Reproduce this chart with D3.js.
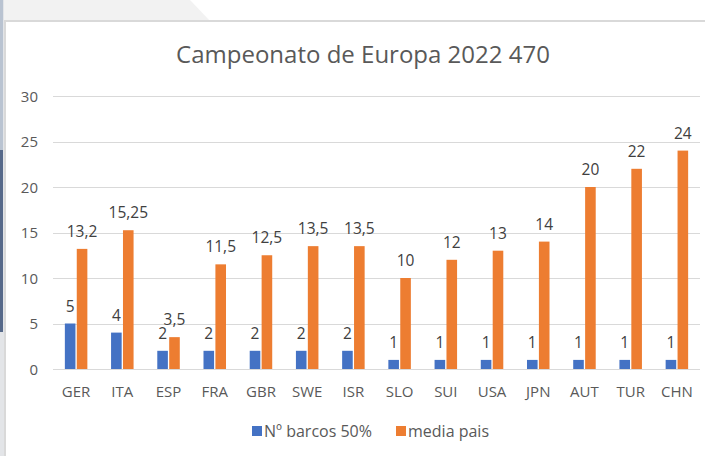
<!DOCTYPE html>
<html>
<head>
<meta charset="utf-8">
<script src="https://cdn.jsdelivr.net/npm/d3@7"></script>
<style>
  html, body { margin: 0; padding: 0; background: #ffffff; }
  svg { display: block; }
</style>
</head>
<body>
<svg id="chart" width="705" height="456"></svg>
<script>
// ---- data ----
const categories = ["GER","ITA","ESP","FRA","GBR","SWE","ISR","SLO","SUI","USA","JPN","AUT","TUR","CHN"];
const barcos = [5,4,2,2,2,2,2,1,1,1,1,1,1,1];
const mediaPais = [13.2,15.25,3.5,11.5,12.5,13.5,13.5,10,12,13,14,20,22,24];
const mediaLabels = ["13,2","15,25","3,5","11,5","12,5","13,5","13,5","10","12","13","14","20","22","24"];
const seriesNames = ["Nº barcos 50%","media pais"];
const yTicks = [0,5,10,15,20,25,30];
const title = "Campeonato de Europa 2022 470";

const colors = ["#4472C4","#ED7D31"];
const font = "'Open Sans', 'Liberation Sans', sans-serif";
const textColor = "#595959";

const svg = d3.select("#chart");
const W = 705, H = 456;

// page background / frame
svg.append("rect").attr("x",0).attr("y",0).attr("width",W).attr("height",H).attr("fill","#ffffff");
svg.append("path").attr("d","M0,0 L190,0 L210,21 L0,21 Z").attr("fill","#f2f2f2");
svg.append("rect").attr("x",0).attr("y",0).attr("width",4).attr("height",H).attr("fill","#e3e5e8");
svg.append("rect").attr("x",0).attr("y",0).attr("width",3).attr("height",150).attr("fill","#b9c3d1");
svg.append("rect").attr("x",0).attr("y",150).attr("width",3).attr("height",182).attr("fill","#56698a");
svg.append("rect").attr("x",5).attr("y",21).attr("width",W+10).attr("height",H+10)
  .attr("fill","#ffffff").attr("stroke","#d9d9d9").attr("stroke-width",2);

// scales
const x0 = d3.scaleBand().domain(categories).range([53,700]).paddingInner(0.513).paddingOuter(0.2565);
const x1 = d3.scaleBand().domain([0,1]).range([0,x0.bandwidth()]).paddingInner(0.11);
const y = d3.scaleLinear().domain([0,30]).range([369,96]);

// gridlines
svg.append("g").selectAll("line").data(yTicks).join("line")
  .attr("x1",53).attr("x2",700)
  .attr("y1",d=>Math.round(y(d))+0.5).attr("y2",d=>Math.round(y(d))+0.5)
  .attr("stroke","#d9d9d9").attr("stroke-width",1);

// y axis labels
const yAxis = d3.axisLeft(y).tickValues(yTicks).tickSize(0).tickPadding(0);
const gy = svg.append("g").attr("transform","translate(38,0)").call(yAxis);
gy.select(".domain").remove();
gy.selectAll("text").attr("font-family",font).attr("font-size",15).attr("fill",textColor).attr("dy","0.35em");

// x axis labels
const xAxis = d3.axisBottom(x0).tickSize(0).tickPadding(0);
const gx = svg.append("g").attr("transform","translate(0,397)").call(xAxis);
gx.select(".domain").remove();
gx.selectAll("text").attr("font-family",font).attr("font-size",15).attr("fill",textColor).attr("dy",0);

// bars
const series = [barcos, mediaPais];
const labels = [barcos.map(String), mediaLabels];
series.forEach((vals, si) => {
  const g = svg.append("g");
  g.selectAll("rect").data(vals).join("rect")
    .attr("x",(d,i)=>x0(categories[i]) + x1(si))
    .attr("width",x1.bandwidth())
    .attr("y",d=>y(d))
    .attr("height",d=>y(0)-y(d))
    .attr("fill",colors[si]);
  g.selectAll("text").data(vals).join("text")
    .attr("x",(d,i)=>x0(categories[i]) + x1(si) + x1.bandwidth()/2)
    .attr("y",d=>y(d)-12)
    .attr("text-anchor","middle")
    .attr("font-family",font).attr("font-size",15.5).attr("fill","#404040")
    .text((d,i)=>labels[si][i]);
});

// title
svg.append("text").attr("x",363).attr("y",63).attr("text-anchor","middle")
  .attr("font-family",font).attr("font-size",24).attr("fill",textColor).text(title);

// legend
const legend = svg.append("g");
const legX = [252, 396];
seriesNames.forEach((n,i)=>{
  legend.append("rect").attr("x",legX[i]).attr("y",426).attr("width",10).attr("height",10).attr("fill",colors[i]);
  legend.append("text").attr("x",legX[i]+12).attr("y",437)
    .attr("font-family",font).attr("font-size",16).attr("fill",textColor).text(n);
});
</script>
</body>
</html>
